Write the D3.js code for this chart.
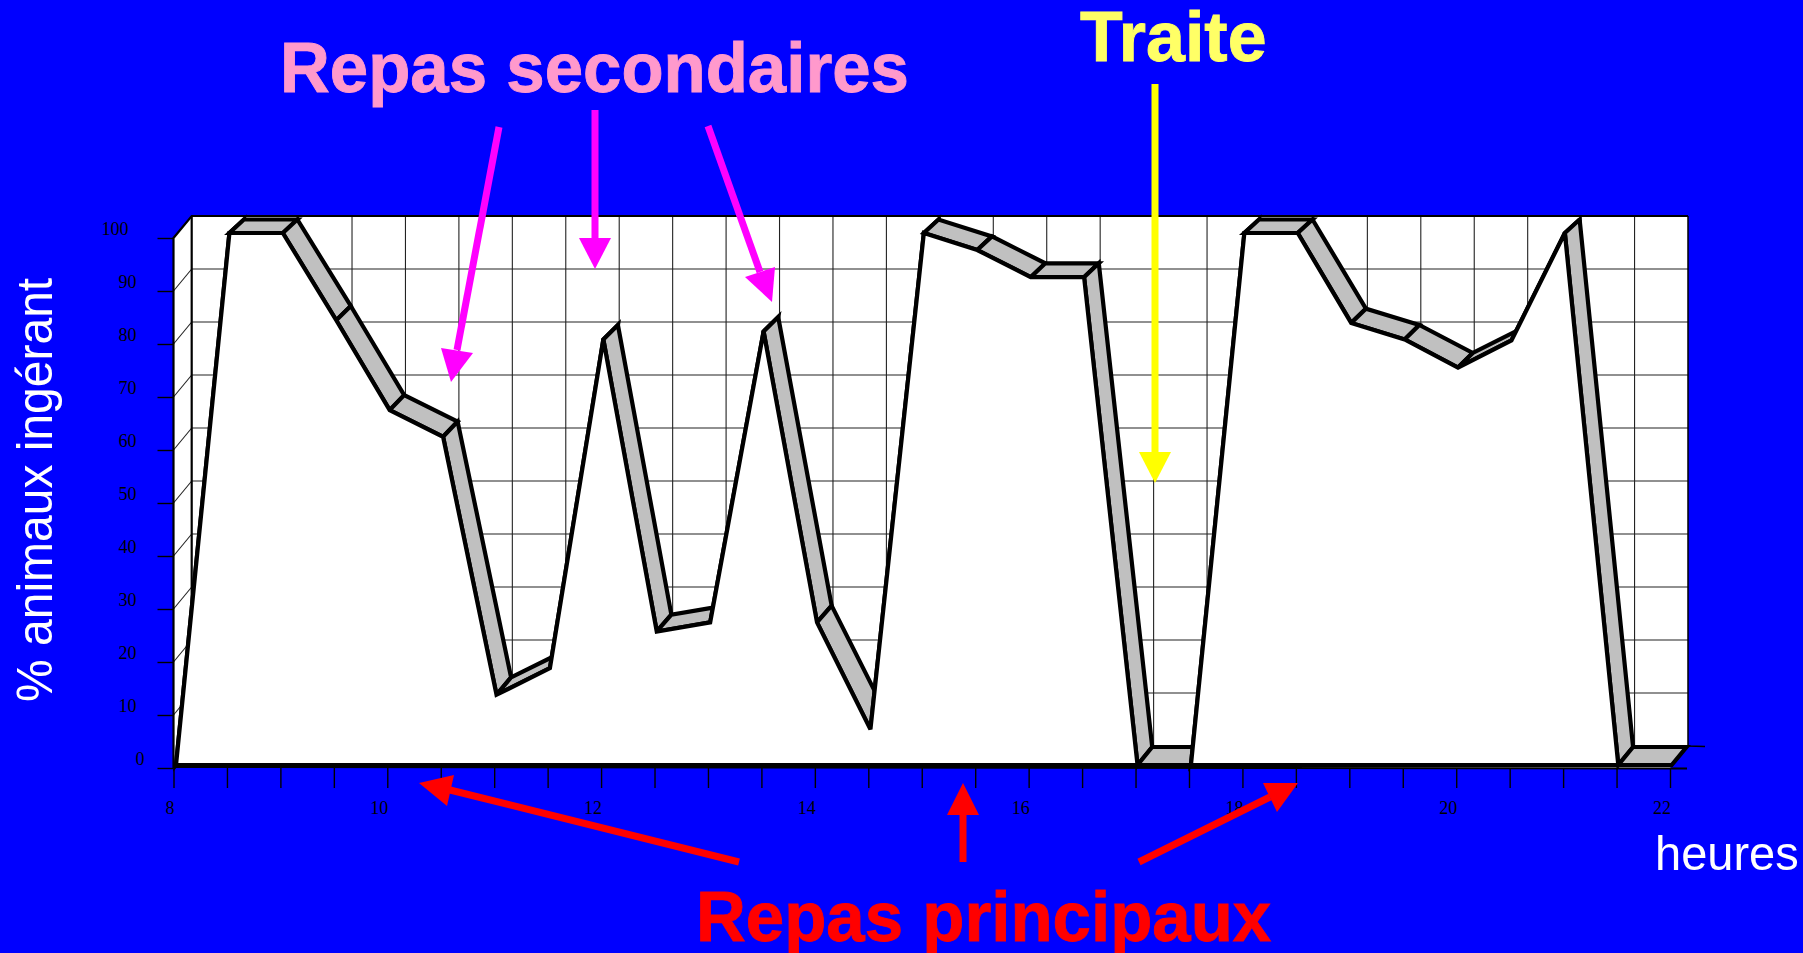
<!DOCTYPE html>
<html><head><meta charset="utf-8">
<style>html,body{margin:0;padding:0;background:#0000ff;overflow:hidden}svg{display:block}</style>
<script src="https://cdn.jsdelivr.net/npm/d3@7/dist/d3.min.js"></script></head>
<body><script>
const hours = [8,8.5,9,9.5,10,10.5,11,11.5,12,12.5,13,13.5,14,14.5,15,15.5,16,16.5,17,17.5,18,18.5,19,19.5,20,20.5,21,21.5,22];
const percent = [0,100,100,83.6,66.7,61.7,13.2,18.2,80,25.1,26.8,81.5,26.8,6.7,100,96.8,91.7,91.7,0,0,100,100,83.1,80,74.7,79.8,100,0,0];
const yTicks = [0,10,20,30,40,50,60,70,80,90,100];
const xTickHours = d3.range(8,22.5,0.5);
const W=1803,H=953;
const svg=d3.select("body").append("svg").attr("width",W).attr("height",H);
svg.append("rect").attr("width",W).attr("height",H).attr("fill","#0000ff");

// axes frame scales
const xAxisS=d3.scaleLinear().domain([8,22]).range([173.5,1670]);
const yAxisS=d3.scaleLinear().domain([0,100]).range([768,238]);
const xWall=d3.scaleLinear().domain([8,22]).range([191.7,1688]);
const yWall=d3.scaleLinear().domain([0,100]).range([746,216]);
// ribbon front and back edges
const xF=d3.scaleLinear().domain([8,22]).range([176,1671.7]);
const yF=d3.scaleLinear().domain([0,100]).range([765,233]);
const xB=d3.scaleLinear().domain([8,22]).range([190.5,1686.5]);
const yB=d3.scaleLinear().domain([0,100]).range([747,219.5]);

const x0=xAxisS(8),x1=xAxisS(22),bx0=xWall(8),bx1=xWall(22);
const y0=yAxisS(0),by0=yWall(0),by1=yWall(100),y1=yAxisS(100);
// walls
svg.append("polygon").attr("fill","#fff").attr("points",[[x0,y1],[bx0,by1],[bx1,by1],[bx1,by0],[x1,y0],[x0,y0]].join(" "));
const grid=svg.append("g").attr("stroke","#222").attr("stroke-width",1.1).attr("fill","none");
yTicks.slice(1,-1).concat([0]).forEach(v=>{
  grid.append("line").attr("x1",bx0).attr("x2",bx1).attr("y1",yWall(v)).attr("y2",yWall(v));
  grid.append("line").attr("x1",x0).attr("x2",bx0).attr("y1",yAxisS(v)).attr("y2",yWall(v));
});
xTickHours.slice(1,-1).forEach(h=>{
  grid.append("line").attr("x1",xWall(h)).attr("x2",xWall(h)).attr("y1",by1).attr("y2",by0);
});
const frame=svg.append("g").attr("stroke","#000").attr("fill","none");
frame.append("path").attr("stroke-width",2.2).attr("d",`M${x0},${y0}L${x0},${y1}L${bx0},${by1}L${bx1},${by1}`);
frame.append("path").attr("stroke-width",2.2).attr("d",`M${bx0},${by1}L${bx0},${by0}`);
frame.append("path").attr("stroke-width",1.5).attr("d",`M${bx1},${by1}L${bx1},${by0}L1705,${by0+0.5}`);

// ribbon segments
const ribbon=svg.append("g").attr("fill","#c0c0c0").attr("stroke","#000").attr("stroke-width",4.2).attr("stroke-linejoin","miter");
percent.slice(0,-1).forEach((v,i)=>{
  const h=hours[i],h2=hours[i+1],v2=percent[i+1];
  ribbon.append("polygon").attr("points",[[xF(h),yF(v)],[xF(h2),yF(v2)],[xB(h2),yB(v2)],[xB(h),yB(v)]].join(" "));
});
// front face
const area=d3.area().x((d,i)=>xF(hours[i])).y1(d=>yF(d)).y0(yF(0));
svg.append("path").datum(percent).attr("d",area(percent)+"Z").attr("fill","#fff").attr("stroke","#000").attr("stroke-width",4.2).attr("stroke-linejoin","miter").attr("stroke-miterlimit",3);
// re-stroke bottom band
svg.append("line").attr("x1",x0).attr("x2",1687).attr("y1",767).attr("y2",768.5).attr("stroke","#000").attr("stroke-width",2);

// axes
const axB=svg.append("g").attr("transform",`translate(0,${y0})`)
  .call(d3.axisBottom(xAxisS).tickValues(xTickHours).tickSize(20).tickPadding(0).tickFormat(d=>d%2===0?d:""));
axB.select(".domain").remove();
axB.selectAll("line").attr("stroke","#000").attr("stroke-width",1.4);
axB.selectAll("text").attr("font-family","'Liberation Serif',serif").attr("font-size",18).attr("fill","#000")
  .attr("text-anchor","end").attr("y",46).attr("dy",0).attr("x",0.5);
const axL=svg.append("g").attr("transform",`translate(${x0},0)`)
  .call(d3.axisLeft(yAxisS).tickValues(yTicks).tickSize(16));
axL.select(".domain").remove();
axL.selectAll("line").attr("stroke","#000").attr("stroke-width",1.4);
axL.selectAll("text").attr("font-family","'Liberation Serif',serif").attr("font-size",18).attr("fill","#000")
  .attr("text-anchor","end").attr("dy",0).attr("y",-4)
  .attr("x",d=>152.5-8*String(d).length-x0);

// titles: slightly condensed along the baseline, as in the reference lettering
const sans="'Liberation Sans',Arial,sans-serif";
function label(t,x,y,size,bold,fill,rot,sx){
  svg.append("text").attr("font-family",sans).attr("font-size",size)
    .attr("font-weight",bold?"bold":"normal").attr("fill",fill)
    .attr("stroke",bold?fill:"none").attr("stroke-width",bold?0.9:0)
    .attr("transform",`translate(${x},${y}) rotate(${rot}) scale(${sx},1)`).text(t);
}
label("% animaux ingérant",52,702,50,false,"#fff",-90,0.96);
label("heures",1655,870,49,false,"#fff",0,0.96);
label("Repas secondaires",280,92,71,true,"#ff99cc",0,0.972);
label("Traite",1080,61,71,true,"#ffff66",0,0.985);
label("Repas principaux",696,941,71,true,"#ff0000",0,0.972);

// arrows: shaft from, shaft to, head triangle
function arrow(color,a,b,head,w){
  svg.append("line").attr("x1",a[0]).attr("y1",a[1]).attr("x2",b[0]).attr("y2",b[1]).attr("stroke",color).attr("stroke-width",w);
  svg.append("polygon").attr("points",head.join(" ")).attr("fill",color);
}
arrow("#ff00ff",[499,127],[457,350],[[451,382],[441,348],[473,353]],7);
arrow("#ff00ff",[595,110],[595,240],[[595,269],[579,238],[611,238]],7);
arrow("#ff00ff",[708,126],[760,272],[[772,302],[745,277],[775,267]],7);
arrow("#ffff00",[1155,84],[1155,455],[[1155,483],[1139,452],[1171,452]],7);
arrow("#ff0000",[739,862],[450,790],[[419,783],[454,775],[447,806]],7);
arrow("#ff0000",[963,862],[963,812],[[963,783],[947,815],[979,815]],7);
arrow("#ff0000",[1139,862],[1270,797],[[1298,783],[1263,783],[1277,812]],7);
</script></body></html>
